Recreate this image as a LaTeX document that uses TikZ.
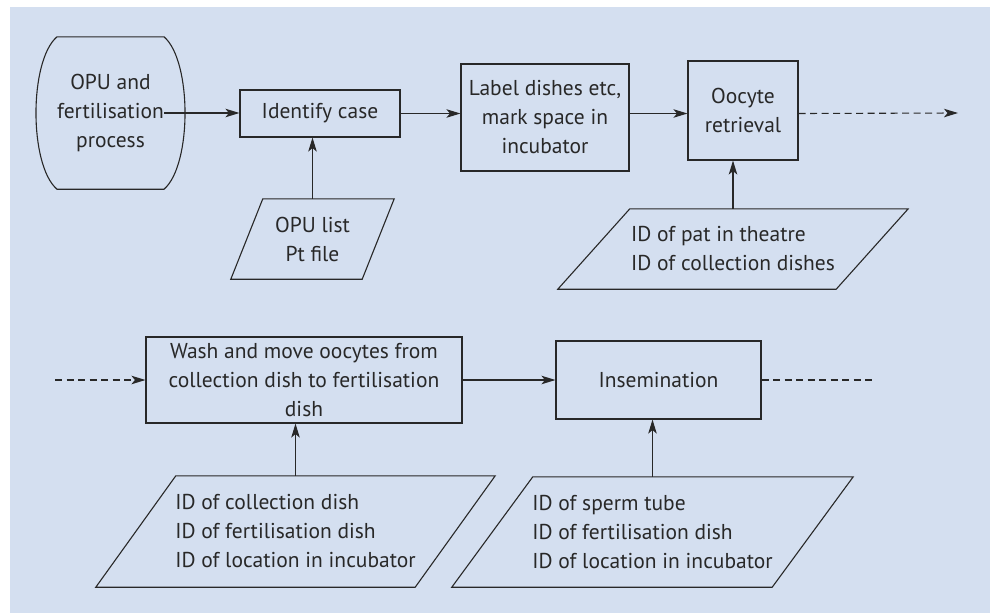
\documentclass[tikz,border=0pt]{standalone}
\usepackage{fontspec}
\setmainfont{PT Sans}
\usepackage{tikz}
\usetikzlibrary{arrows.meta}
\usepackage{xcolor}
\definecolor{panelblue}{RGB}{212,223,240}
\definecolor{inkgrey}{RGB}{40,40,40}

\begin{document}
\begin{tikzpicture}[x=1pt,y=-1pt,
  every node/.style={font=\fontsize{21.5}{29}\selectfont, text=inkgrey},
  rule/.style={draw=inkgrey, line width=1.1pt},
  procbox/.style={rule, align=center, inner sep=0pt},
  datatext/.style={align=left, inner sep=0pt},
  flow/.style={rule, -{Stealth[length=14pt,width=8.5pt,inset=3.5pt]}},
  dashflow/.style={flow, dash pattern=on 7pt off 4.5pt}]
\useasboundingbox (0,0) rectangle (990,613);
\fill[panelblue] (10,7) rectangle (990,613);
%top row
\node[minimum width=94pt, minimum height=152pt, align=center, inner sep=0pt] (opu) at (110.5,113) {OPU and\\fertilisation\\process};
\draw[rule] (opu.north west) -- (opu.north east) .. controls +(28,24) and +(28,-24) .. (opu.south east) -- (opu.south west) .. controls +(-28,-24) and +(-28,24) .. (opu.north west);
\node[procbox, minimum width=160pt, minimum height=47pt] (ident) at (320,113.5) {Identify case};
\node[procbox, minimum width=168pt, minimum height=107pt] (label) at (545,117.5) {Label dishes etc,\\mark space in\\incubator};
\node[procbox, minimum width=110pt, minimum height=99pt] (oocyte) at (743,110.5) {Oocyte\\retrieval};
\coordinate (outA) at (958,113);
%inputs
\node[datatext, align=center, minimum width=163pt, minimum height=80pt] (opulist) at (312.5,239) {OPU list\\Pt file};
\draw[rule] ([xshift=32pt]opulist.north west) -- (opulist.north east) -- ([xshift=-32pt]opulist.south east) -- (opulist.south west) -- cycle;
\node[datatext, minimum width=350pt, minimum height=80pt] (patid) at (733,249) {ID of pat in theatre\\ID of collection dishes};
\draw[rule] ([xshift=72pt]patid.north west) -- (patid.north east) -- ([xshift=-72pt]patid.south east) -- (patid.south west) -- cycle;
%arrows
\draw[flow] (opu.east) -- (opu.east -| ident.west);
\draw[flow] (ident.east) -- (ident.east -| label.west);
\draw[flow] (label.east |- ident.east) -- (ident.east -| oocyte.west);
\draw[dashflow] (oocyte.east |- ident.east) -- (outA);
\draw[flow] (opulist.north) -- (opulist.north |- ident.south);
\draw[flow] (patid.north) -- (patid.north |- oocyte.south);

%bottom row
\coordinate (inB) at (55,380);
\node[procbox, minimum width=316pt, minimum height=86pt] (wash) at (304,380) {Wash and move oocytes from\\collection dish to fertilisation\\dish};
\node[procbox, minimum width=205pt, minimum height=78pt] (insem) at (658.5,380) {Insemination};
\coordinate (outB) at (875,380);
%inputs
\node[datatext, minimum width=399pt, minimum height=111pt] (colldata) at (295.5,531.5) {ID of collection dish\\ID of fertilisation dish\\ID of location in incubator};
\draw[rule] ([xshift=80pt]colldata.north west) -- (colldata.north east) -- ([xshift=-80pt]colldata.south east) -- (colldata.south west) -- cycle;
\node[datatext, minimum width=401pt, minimum height=110pt] (spermdata) at (652.5,532) {ID of sperm tube\\ID of fertilisation dish\\ID of location in incubator};
\draw[rule] ([xshift=81pt]spermdata.north west) -- (spermdata.north east) -- ([xshift=-81pt]spermdata.south east) -- (spermdata.south west) -- cycle;
%arrows
\draw[dashflow] (inB) -- (inB -| wash.west);
\draw[flow] (wash.east) -- (insem.west);
\draw[rule, dash pattern=on 7pt off 4.5pt] (insem.east) -- (outB);
\draw[flow] (colldata.north) -- (colldata.north |- wash.south);
\draw[flow] (spermdata.north) -- (spermdata.north |- insem.south);
\end{tikzpicture}
\end{document}
